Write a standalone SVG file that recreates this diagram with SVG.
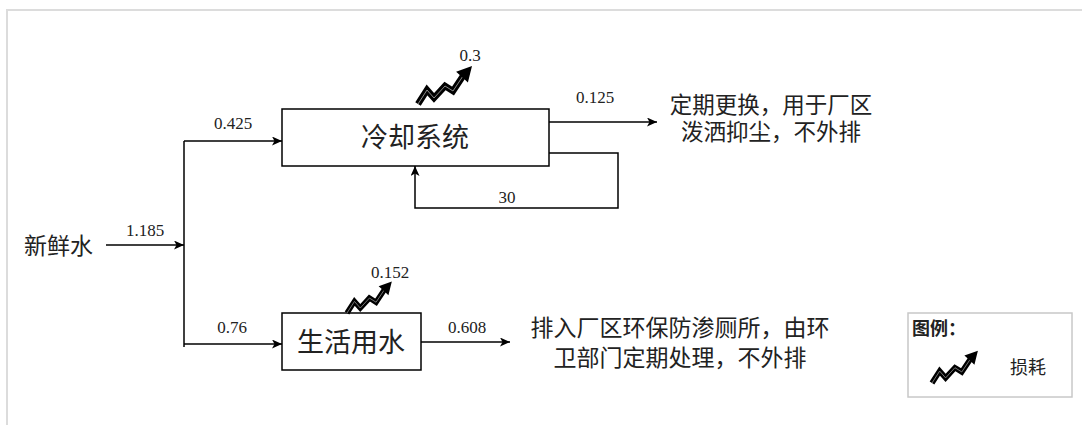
<svg xmlns="http://www.w3.org/2000/svg" xmlns:xlink="http://www.w3.org/1999/xlink" width="1082" height="425" viewBox="0 0 1082 425">
<style>
.box{fill:#fff;stroke:#000;stroke-width:1.5}
.ln{fill:none;stroke:#000;stroke-width:1.5}
.num{font-family:"Liberation Serif","Times New Roman",serif;font-size:17px;fill:#222;text-anchor:middle}
.cjk{font-family:"Noto Sans CJK SC","Noto Sans",sans-serif;fill:#222}
</style>
<defs>
<marker id="arr" markerUnits="userSpaceOnUse" markerWidth="11" markerHeight="9" refX="10" refY="4.5" orient="auto">
<path d="M0,0 L10,4.5 L0,9 L2.5,4.5 z" fill="#000"/>
</marker>
<g id="loss">
<polyline points="0,0 9,-14 16,-6 27,-18 35,-13 45,-28" fill="none" stroke="#000" stroke-width="6.5" stroke-linejoin="miter"/>
<polyline points="0,0 9,-14 16,-6 27,-18 35,-13 45,-28" fill="none" stroke="#8a8a8a" stroke-width="1"/>
<polygon points="54,-38 38.1,-32.3 44,-27 49.9,-21.5" fill="#000"/>
</g>
</defs>
<rect width="1082" height="425" fill="#fff"/>
<path d="M7,425 V10 H1082" fill="none" stroke="#dcdcdc" stroke-width="2"/>

<g id="connectors">
<path class="ln" d="M106,245 H184" marker-end="url(#arr)"/>
<path class="ln" d="M184,141 V347"/>
<path class="ln" d="M184,141 H282" marker-end="url(#arr)"/>
<path class="ln" d="M184,344 H282" marker-end="url(#arr)"/>
<path class="ln" d="M549,122 H657" marker-end="url(#arr)"/>
<path class="ln" d="M549,153 H618 V208 H415 V166" marker-end="url(#arr)"/>
<path class="ln" d="M421,342 H510" marker-end="url(#arr)"/>
<text class="num" x="145" y="236">1.185</text>
<text class="num" x="233" y="129">0.425</text>
<text class="num" x="232" y="333">0.76</text>
<text class="num" x="595" y="103">0.125</text>
<text class="num" x="507" y="203">30</text>
<text class="num" x="467" y="333">0.608</text>
</g>

<g id="fresh-water">
<text class="cjk" x="24" y="254" font-size="23">新鲜水</text>
</g>

<g id="cooling">
<rect class="box" x="282" y="109" width="267" height="57"/>
<text class="cjk" x="415" y="147" font-size="27" text-anchor="middle">冷却系统</text>
</g>

<g id="cooling-loss">
<use xlink:href="#loss" href="#loss" transform="translate(418,104)"/>
<text class="num" x="470" y="61">0.3</text>
</g>

<g id="cooling-out">
<text class="cjk" font-size="22.5" text-anchor="middle"><tspan x="771" y="113">定期更换，用于厂区</tspan><tspan x="771" y="140">泼洒抑尘，不外排</tspan></text>
</g>

<g id="domestic">
<rect class="box" x="282" y="313" width="139" height="57"/>
<text class="cjk" x="351" y="352" font-size="27" text-anchor="middle">生活用水</text>
</g>

<g id="domestic-loss">
<use xlink:href="#loss" href="#loss" transform="translate(347,313) scale(0.83)"/>
<text class="num" x="390" y="278">0.152</text>
</g>

<g id="domestic-out">
<text class="cjk" font-size="23" text-anchor="middle"><tspan x="680" y="336">排入厂区环保防渗厕所，由环</tspan><tspan x="680" y="366">卫部门定期处理，不外排</tspan></text>
</g>

<g id="legend">
<rect x="908" y="313" width="164" height="84" fill="#fff" stroke="#c8c8c8" stroke-width="1.5"/>
<text class="cjk" x="912" y="335" font-size="18" font-weight="bold">图例：</text>
<use xlink:href="#loss" href="#loss" transform="translate(932,383) scale(0.85)"/>
<text class="cjk" x="1010" y="374" font-size="18">损耗</text>
</g>
</svg>
